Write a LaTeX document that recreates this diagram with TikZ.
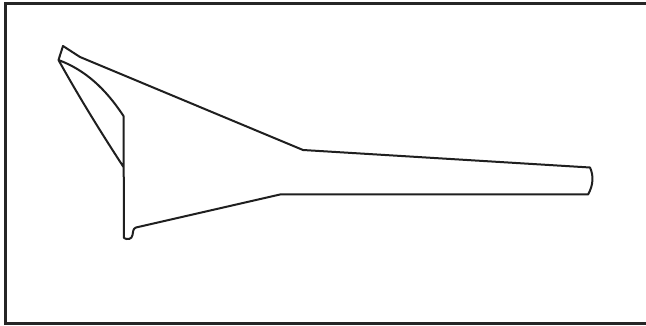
\documentclass[tikz,border=0pt]{standalone}
\tikzset{outline/.style={draw=black!88,line width=2pt,line join=round,line cap=round},
frame/.style={draw=black!85,line width=3pt}}
\begin{document}
\begin{tikzpicture}[x=1pt,y=-1pt]
\useasboundingbox[fill=white] (0,0) rectangle (646,326);
\clip (0,0) rectangle (646,326);
\draw[frame] (5,4) rectangle (652,323);
\draw[outline] (58.5,60) -- (63,46) -- (80,57) -- (303,150) -- (590,167.5)
 .. controls (594,176) and (593,186) .. (588,194.5) -- (280,194.5) -- (136,227.5)
 .. controls (133,228.5) and (133,232) .. (132.5,235)
 .. controls (132,239.5) and (127,240) .. (124,238) -- (123.5,116)
 .. controls (105,88) and (85,70) .. (58.5,60)
 .. controls (79,97) and (101,132.5) .. (123.5,167);
\end{tikzpicture}
\end{document}
